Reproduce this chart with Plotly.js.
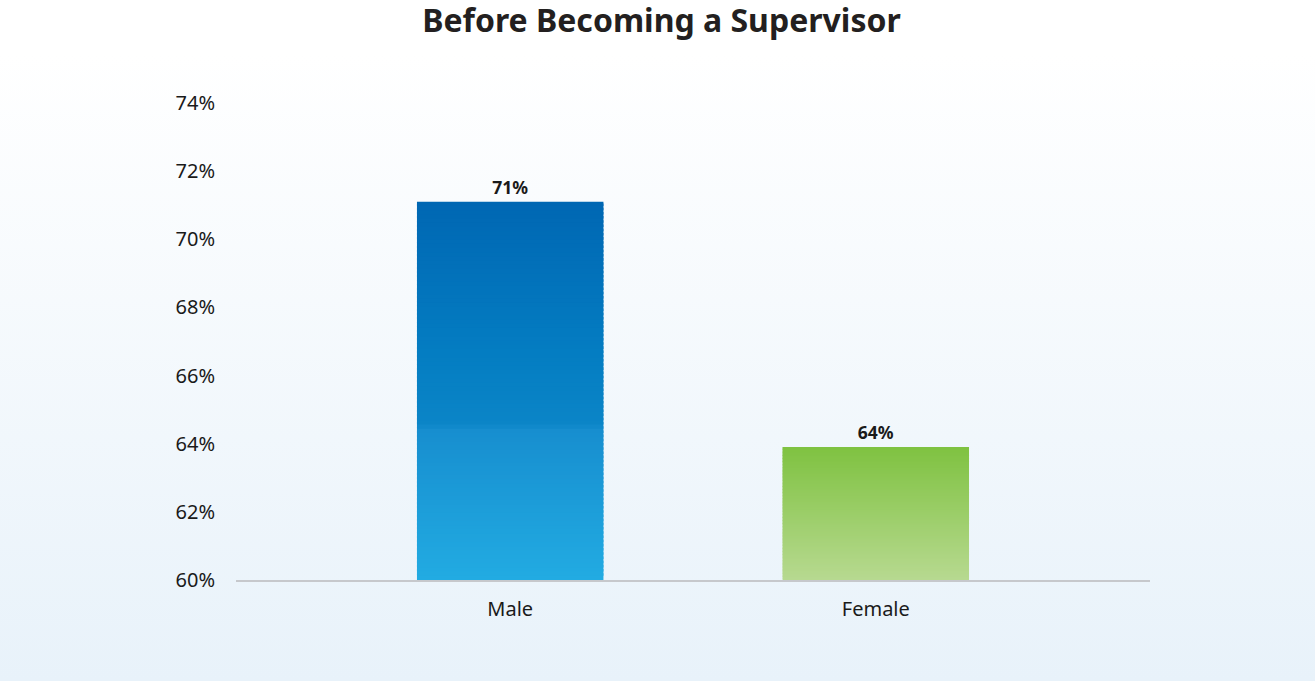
<!DOCTYPE html>
<html>
<head>
<meta charset="utf-8">
<script src="https://cdn.plot.ly/plotly-3.0.1.min.js"></script>
<style>
  html, body { margin: 0; padding: 0; width: 1315px; height: 681px; overflow: hidden; }
  body { background: linear-gradient(to bottom, #ffffff 0px, #ffffff 55px, #e8f2fa 681px); }
  #chart { width: 1315px; height: 681px; }
</style>
</head>
<body>
<div id="chart"></div>
<script>
// ---- data ----
const categories = ['Male', 'Female'];
const values = [71.1, 63.9];
const valueLabels = ['71%', '64%'];
const yTickVals = [60, 62, 64, 66, 68, 70, 72, 74];
const yTickText = ['60%', '62%', '64%', '66%', '68%', '70%', '72%', '74%'];
const baseline = 60;
const chartTitle = 'Before Becoming a Supervisor';
// gradient stops per bar (0 = bottom, 1 = top)
const barGradients = [
  [[0, '#22abe2'], [0.40, '#178ecf'], [0.41, '#0b85c7'], [0.6, '#047dc2'], [1, '#0067b3']],
  [[0, '#b7d990'], [1, '#7fc241']]
];

// ---- helpers ----
function hexToRgb(h) {
  h = h.replace('#', '');
  return [parseInt(h.substr(0, 2), 16), parseInt(h.substr(2, 2), 16), parseInt(h.substr(4, 2), 16)];
}
function colorAt(stops, t) {
  for (let i = 0; i < stops.length - 1; i++) {
    const [t0, c0] = stops[i], [t1, c1] = stops[i + 1];
    if (t >= t0 && t <= t1) {
      const f = (t - t0) / (t1 - t0 || 1);
      const a = hexToRgb(c0), b = hexToRgb(c1);
      return 'rgb(' + a.map((v, j) => Math.round(v + (b[j] - v) * f)).join(',') + ')';
    }
  }
  return stops[stops.length - 1][1];
}

const BAR_WIDTH = 0.51;
const N = 90;
const traces = [];
for (let k = 0; k < N; k++) {
  const bases = values.map(v => baseline + (v - baseline) * k / N);
  const heights = values.map(v => (v - baseline) / N * (k < N - 1 ? 1.6 : 1));
  const colors = barGradients.map(s => colorAt(s, (k + 0.5) / N));
  traces.push({
    type: 'bar', x: categories, y: heights, base: bases, width: BAR_WIDTH,
    marker: { color: colors, line: { width: 0 } },
    hoverinfo: 'skip', showlegend: false
  });
}
// label trace (transparent bar spanning full value, label outside)
traces.push({
  type: 'bar', x: categories, y: values.map(v => v - baseline), base: baseline, width: BAR_WIDTH,
  marker: { color: 'rgba(0,0,0,0)', line: { width: 0 } },
  text: valueLabels, textposition: 'outside', cliponaxis: false,
  textfont: { family: 'Noto Sans', size: 17.5, color: '#1a1a1a', weight: 'bold' },
  hoverinfo: 'skip', showlegend: false
});

const layout = {
  width: 1315, height: 681,
  paper_bgcolor: 'rgba(0,0,0,0)', plot_bgcolor: 'rgba(0,0,0,0)',
  margin: { l: 236, r: 165, t: 103, b: 101, pad: 0 },
  barmode: 'overlay',
  title: {
    text: '<b>' + chartTitle + '</b>',
    font: { family: 'Noto Sans', size: 32, color: '#231f20' },
    x: 0.503, xanchor: 'center', xref: 'container',
    y: 1 - 21 / 681, yanchor: 'middle', yref: 'container'
  },
  xaxis: {
    type: 'category', range: [-0.75, 1.75],
    showline: true, linecolor: '#c6c8cc', linewidth: 2,
    showgrid: false, zeroline: false, ticks: '',
    ticklabelstandoff: 10,
    tickfont: { family: 'Noto Sans', size: 20, color: '#1a1a1a' }
  },
  yaxis: {
    range: [60, 74], tickvals: yTickVals, ticktext: yTickText,
    showline: false, showgrid: false, zeroline: false, ticks: '',
    ticklabelstandoff: 20,
    tickfont: { family: 'Noto Sans', size: 20, color: '#1a1a1a' }
  },
  hovermode: false
};

Plotly.newPlot('chart', traces, layout, { staticPlot: true, displayModeBar: false });
</script>
</body>
</html>
